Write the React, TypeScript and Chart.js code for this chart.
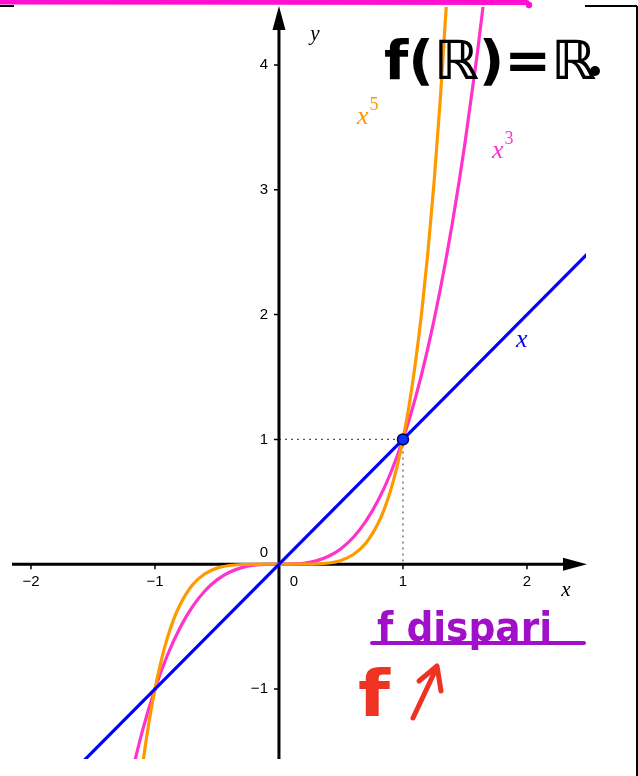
import { useEffect, useRef } from "react";
import { Chart, registerables } from "chart.js";

Chart.register(...registerables);

// Sample abscissas and ordinates for y = x^3
const cubeX = [-1.2, -1.1, -1.0, -0.9, -0.8, -0.7, -0.6, -0.5, -0.4, -0.3, -0.2, -0.1, 0, 0.1, 0.2, 0.3, 0.4, 0.5, 0.6, 0.7, 0.8, 0.9, 1.0, 1.1, 1.2, 1.3, 1.4, 1.5, 1.6, 1.7];
const cubeY = [-1.728, -1.331, -1, -0.729, -0.512, -0.343, -0.216, -0.125, -0.064, -0.027, -0.008, -0.001, 0, 0.001, 0.008, 0.027, 0.064, 0.125, 0.216, 0.343, 0.512, 0.729, 1, 1.331, 1.728, 2.197, 2.744, 3.375, 4.096, 4.913];

// Sample abscissas and ordinates for y = x^5
const fifthX = [-1.15, -1.1, -1.05, -1.0, -0.95, -0.9, -0.85, -0.8, -0.7, -0.6, -0.5, -0.4, -0.3, -0.2, 0, 0.2, 0.3, 0.4, 0.5, 0.6, 0.7, 0.8, 0.85, 0.9, 0.95, 1.0, 1.05, 1.1, 1.15, 1.2, 1.25, 1.3, 1.35, 1.4];
const fifthY = [-2.011, -1.611, -1.276, -1, -0.774, -0.59, -0.444, -0.328, -0.168, -0.078, -0.031, -0.01, -0.002, -0.0003, 0, 0.0003, 0.002, 0.01, 0.031, 0.078, 0.168, 0.328, 0.444, 0.59, 0.774, 1, 1.276, 1.611, 2.011, 2.488, 3.052, 3.713, 4.484, 5.378];

// y = x
const identX = [-2.5, 2.5];
const identY = [-2.5, 2.5];

// Highlighted point (1, 1)
const pointX = [1];
const pointY = [1];

// Visible window
const xWindow = [-2.153, 2.476];
const yWindow = [-1.56, 4.464];

// Tick values and labels
const xTickValues = [-2, -1, 1, 2];
const xTickLabels = ["\u22122", "\u22121", "1", "2"];
const yTickValues = [-1, 1, 2, 3, 4];
const yTickLabels = ["\u22121", "1", "2", "3", "4"];

const BLUE = "#0000ff";
const PINK = "#ff33cc";
const ORANGE = "#ff9900";
const PURPLE = "#a010c8";
const RED = "#ee3322";

const zip = (xs: number[], ys: number[]) => xs.map((x, i) => ({ x, y: ys[i] }));

function fitText(ctx: CanvasRenderingContext2D, text: string, x: number, baseline: number, width: number, font: string, color: string) {
  ctx.save();
  ctx.font = font;
  const w = ctx.measureText(text).width;
  ctx.translate(x, baseline);
  ctx.scale(width / w, 1);
  ctx.fillStyle = color;
  ctx.textAlign = "left";
  ctx.textBaseline = "alphabetic";
  ctx.fillText(text, 0, 0);
  ctx.restore();
}

function superLabel(ctx: CanvasRenderingContext2D, base: string, exp: string, x: number, baseline: number, color: string) {
  ctx.save();
  ctx.fillStyle = color;
  ctx.textAlign = "left";
  ctx.textBaseline = "alphabetic";
  ctx.font = 'italic 26px "Liberation Serif"';
  ctx.fillText(base, x, baseline);
  const w = ctx.measureText(base).width;
  if (exp) {
    ctx.font = '18px "Liberation Serif"';
    ctx.fillText(exp, x + w + 1, baseline - 14);
  }
  ctx.restore();
}

const axesPlugin = {
  id: "cartesianAxes",
  beforeDatasetsDraw(chart: Chart) {
    const ctx = chart.ctx;
    const xs = chart.scales.x;
    const ys = chart.scales.y;
    const area = chart.chartArea;
    const x0 = xs.getPixelForValue(0);
    const y0 = ys.getPixelForValue(0);
    const px = xs.getPixelForValue(pointX[0]);
    const py = ys.getPixelForValue(pointY[0]);

    ctx.save();
    // dotted guides to the point
    ctx.strokeStyle = "#555";
    ctx.lineWidth = 1.2;
    ctx.setLineDash([2, 4]);
    ctx.beginPath();
    ctx.moveTo(x0, py);
    ctx.lineTo(px, py);
    ctx.moveTo(px, py);
    ctx.lineTo(px, y0);
    ctx.stroke();
    ctx.setLineDash([]);

    // axes
    ctx.strokeStyle = "#000";
    ctx.fillStyle = "#000";
    ctx.lineWidth = 3;
    ctx.beginPath();
    ctx.moveTo(area.left, y0);
    ctx.lineTo(area.right - 22, y0);
    ctx.moveTo(x0, area.bottom);
    ctx.lineTo(x0, area.top + 22);
    ctx.stroke();
    // arrow heads
    ctx.beginPath();
    ctx.moveTo(area.right + 1, y0);
    ctx.lineTo(area.right - 23, y0 - 6.5);
    ctx.lineTo(area.right - 23, y0 + 6.5);
    ctx.closePath();
    ctx.fill();
    ctx.beginPath();
    ctx.moveTo(x0, area.top - 1);
    ctx.lineTo(x0 - 6.5, area.top + 23);
    ctx.lineTo(x0 + 6.5, area.top + 23);
    ctx.closePath();
    ctx.fill();

    // ticks
    ctx.lineWidth = 1.5;
    ctx.beginPath();
    xTickValues.forEach((v) => {
      const p = xs.getPixelForValue(v);
      ctx.moveTo(p, y0);
      ctx.lineTo(p, y0 + 5);
    });
    yTickValues.forEach((v) => {
      const p = ys.getPixelForValue(v);
      ctx.moveTo(x0 - 5, p);
      ctx.lineTo(x0, p);
    });
    ctx.stroke();

    // tick labels
    ctx.font = '15px "Liberation Sans"';
    ctx.textBaseline = "middle";
    ctx.textAlign = "center";
    xTickValues.forEach((v, i) => {
      ctx.fillText(xTickLabels[i], xs.getPixelForValue(v), y0 + 18);
    });
    ctx.fillText("0", x0 + 15, y0 + 18);
    ctx.textAlign = "right";
    yTickValues.forEach((v, i) => {
      ctx.fillText(yTickLabels[i], x0 - 11, ys.getPixelForValue(v));
    });
    ctx.fillText("0", x0 - 11, y0 - 11);

    // axis names
    ctx.font = 'italic 21px "Liberation Serif"';
    ctx.textAlign = "center";
    ctx.fillText("x", area.right - 20, y0 + 26);
    ctx.fillText("y", x0 + 36, area.top + 27);
    ctx.restore();
  },
  afterDraw(chart: Chart) {
    const ctx = chart.ctx;
    ctx.save();

    // curve names
    superLabel(ctx, "x", "5", 357, 124, ORANGE);
    superLabel(ctx, "x", "3", 492, 158, PINK);
    superLabel(ctx, "x", "", 516, 347, BLUE);

    // frame
    ctx.strokeStyle = "#000";
    ctx.lineWidth = 2;
    ctx.beginPath();
    ctx.moveTo(0, 6);
    ctx.lineTo(14, 6);
    ctx.moveTo(585, 6);
    ctx.lineTo(637, 6);
    ctx.moveTo(637, 6);
    ctx.lineTo(637, 776);
    ctx.stroke();

    // magenta marker stroke
    ctx.strokeStyle = "#ff10d0";
    ctx.lineCap = "round";
    ctx.lineWidth = 5;
    ctx.beginPath();
    ctx.moveTo(-4, 2);
    ctx.lineTo(527, 2.5);
    ctx.stroke();
    ctx.fillStyle = "#ff10d0";
    ctx.beginPath();
    ctx.arc(529, 5, 3.2, 0, Math.PI * 2);
    ctx.fill();

    // hand notes
    fitText(ctx, "f(\u211D)=\u211D", 384, 79, 212, 'bold 54px "DejaVu Sans"', "#000");
    ctx.fillStyle = "#000";
    ctx.beginPath();
    ctx.arc(595, 71, 5, 0, Math.PI * 2);
    ctx.fill();

    fitText(ctx, "f dispari", 377, 641, 175, 'bold 40px "DejaVu Sans"', PURPLE);
    ctx.strokeStyle = PURPLE;
    ctx.lineWidth = 4;
    ctx.beginPath();
    ctx.moveTo(372, 643);
    ctx.lineTo(584, 643);
    ctx.stroke();

    fitText(ctx, "f", 358, 716, 32, 'bold 64px "DejaVu Sans"', RED);
    ctx.strokeStyle = RED;
    ctx.lineWidth = 5;
    ctx.lineJoin = "round";
    ctx.beginPath();
    ctx.moveTo(413, 718);
    ctx.lineTo(437, 667);
    ctx.moveTo(419, 681);
    ctx.lineTo(437, 666);
    ctx.lineTo(441, 691);
    ctx.stroke();

    ctx.restore();
  },
};

export default function App() {
  const ref = useRef<HTMLCanvasElement | null>(null);

  useEffect(() => {
    document.body.style.margin = "0";
    const canvas = ref.current;
    if (!canvas) return;
    const chart = new Chart(canvas, {
      type: "scatter",
      data: {
        datasets: [
          {
            label: "A",
            data: zip(pointX, pointY),
            pointRadius: 5.5,
            pointBackgroundColor: "#1030ff",
            pointBorderColor: "#000050",
            pointBorderWidth: 1.5,
            showLine: false,
            order: 0,
          },
          {
            label: "x",
            data: zip(identX, identY),
            borderColor: BLUE,
            borderWidth: 3.2,
            pointRadius: 0,
            showLine: true,
            order: 1,
          },
          {
            label: "x^5",
            data: zip(fifthX, fifthY),
            borderColor: ORANGE,
            borderWidth: 3.2,
            pointRadius: 0,
            showLine: true,
            cubicInterpolationMode: "monotone",
            order: 2,
          },
          {
            label: "x^3",
            data: zip(cubeX, cubeY),
            borderColor: PINK,
            borderWidth: 3.2,
            pointRadius: 0,
            showLine: true,
            cubicInterpolationMode: "monotone",
            order: 3,
          },
        ],
      },
      options: {
        responsive: false,
        animation: false,
        devicePixelRatio: 1,
        layout: { padding: { left: 12, right: 52, top: 6, bottom: 17 } },
        plugins: { legend: { display: false }, tooltip: { enabled: false } },
        events: [],
        scales: {
          x: { type: "linear", min: xWindow[0], max: xWindow[1], display: false },
          y: { type: "linear", min: yWindow[0], max: yWindow[1], display: false },
        },
      },
      plugins: [axesPlugin],
    });
    return () => chart.destroy();
  }, []);

  return (
    <div style={{ position: "absolute", left: 0, top: 0, width: 638, height: 776, background: "#fff" }}>
      <canvas ref={ref} width={638} height={776} style={{ display: "block" }} />
    </div>
  );
}
